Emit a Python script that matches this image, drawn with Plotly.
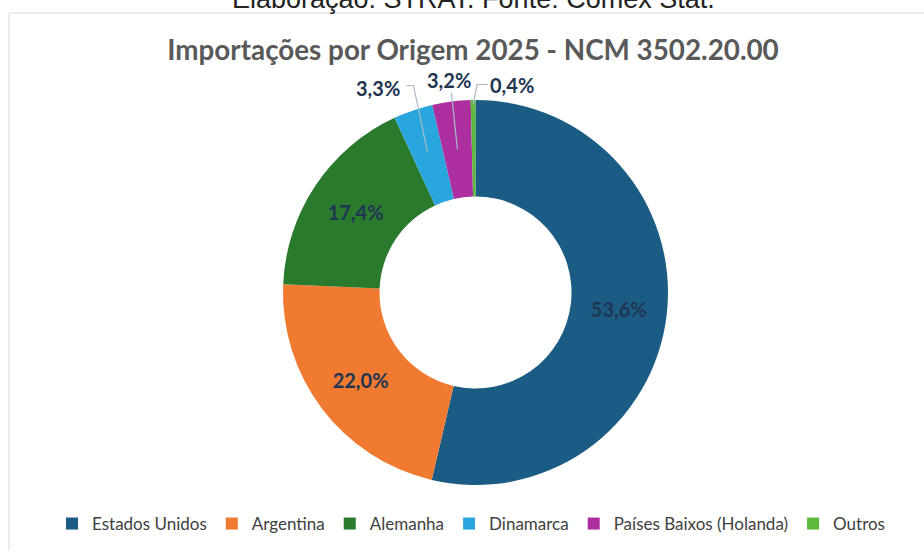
import math
import plotly.graph_objects as go

# Dados (participação % nas importações 2025 - NCM 3502.20.00)
paises = ["Estados Unidos", "Argentina", "Alemanha", "Dinamarca",
          "Países Baixos (Holanda)", "Outros"]
participacao = [53.6, 22.0, 17.4, 3.3, 3.2, 0.4]
cores = ["#1b5c85", "#ef7a30", "#2a7a2e", "#2aa6df", "#ad2e9f", "#5db83c"]

rotulos = [f"{v:.1f}".replace(".", ",") + "%" for v in participacao]
# fatias pequenas recebem rótulo externo com linha de chamada
pequenas = [v < 10 for v in participacao]

W, H = 924, 551
CX, CY, R_EXT, R_INT = 475.5, 292.5, 192.5, 96

# posição do rótulo externo e cotovelos da linha, em px relativos à ponta da linha
raio_ponta = {"Dinamarca": 148, "Países Baixos (Holanda)": 144, "Outros": 188}
pos_rotulo = {"Dinamarca": (-50, -64), "Países Baixos (Holanda)": (-8, -70), "Outros": (39, -20)}
cotovelos = {"Dinamarca": [(-21, -67), (-14, -67)],
             "Países Baixos (Holanda)": [(-6, -57)],
             "Outros": [(15, -20), (4, -20)]}

fig = go.Figure(go.Pie(
    labels=paises,
    values=participacao,
    text=[("" if p else r) for r, p in zip(rotulos, pequenas)],
    textinfo="text",
    textposition="inside",
    insidetextorientation="horizontal",
    hole=R_INT / R_EXT,
    sort=False,
    direction="clockwise",
    rotation=0,
    marker=dict(colors=cores, line=dict(color="white", width=0)),
    textfont=dict(family="Lato", size=20, color="#1f3552", weight="bold"),
    domain=dict(x=[(CX - R_EXT) / W, (CX + R_EXT) / W],
                y=[1 - (CY + R_EXT) / H, 1 - (CY - R_EXT) / H]),
))


def px2paper(x, y):
    return x / W, 1 - y / H


total = sum(participacao)
acum = 0
anotacoes = []
formas = [dict(type="rect", xref="paper", yref="paper",
               x0=9 / W, x1=1.01, y0=-0.01, y1=1 - 13 / H,
               line=dict(color="#d9d9d9", width=1))]
for nome, v, r, p in zip(paises, participacao, rotulos, pequenas):
    ang = 2 * math.pi * (acum + v / 2) / total
    acum += v
    if not p:
        continue
    rho = raio_ponta[nome]
    tx = CX + rho * math.sin(ang)
    ty = CY - rho * math.cos(ang)
    lx, ly = px2paper(tx + pos_rotulo[nome][0], ty + pos_rotulo[nome][1])
    anotacoes.append(dict(text=f"<b>{r}</b>", xref="paper", yref="paper", x=lx, y=ly,
                          xanchor="center", yanchor="middle", showarrow=False,
                          font=dict(family="Lato", size=20, color="#1f3552")))
    pts = [px2paper(tx + dx, ty + dy) for dx, dy in cotovelos[nome]] + [px2paper(tx, ty)]
    caminho = "M " + " L ".join(f"{a},{b}" for a, b in pts)
    formas.append(dict(type="path", xref="paper", yref="paper", path=caminho,
                       line=dict(color="#a9b9c9", width=1.2)))

anotacoes.append(dict(text="Elaboração: STRAT. Fonte: Comex Stat.",
                      xref="paper", yref="paper", x=473.5 / W, y=1,
                      xanchor="center", yanchor="bottom", yshift=-16, showarrow=False,
                      font=dict(family="Liberation Sans", size=27, color="#222222")))

fig.update_layout(
    width=W, height=H,
    margin=dict(l=0, r=0, t=0, b=0),
    paper_bgcolor="white",
    showlegend=True,
    legend=dict(orientation="h", x=471 / W, xanchor="center", y=1 - 524 / H,
                yanchor="middle", font=dict(family="Lato", size=17, color="#404040"),
                itemwidth=30, traceorder="normal"),
    title=dict(text="<b>Importações por Origem 2025 - NCM 3502.20.00</b>",
               x=473 / W, xanchor="center", y=1 - 50 / H, yanchor="middle",
               font=dict(family="Lato", size=27.8, color="#595959")),
    shapes=formas,
    annotations=anotacoes,
)

fig.write_html("out.html", config={"displayModeBar": False},
               post_script="document.body.style.margin='0';")
